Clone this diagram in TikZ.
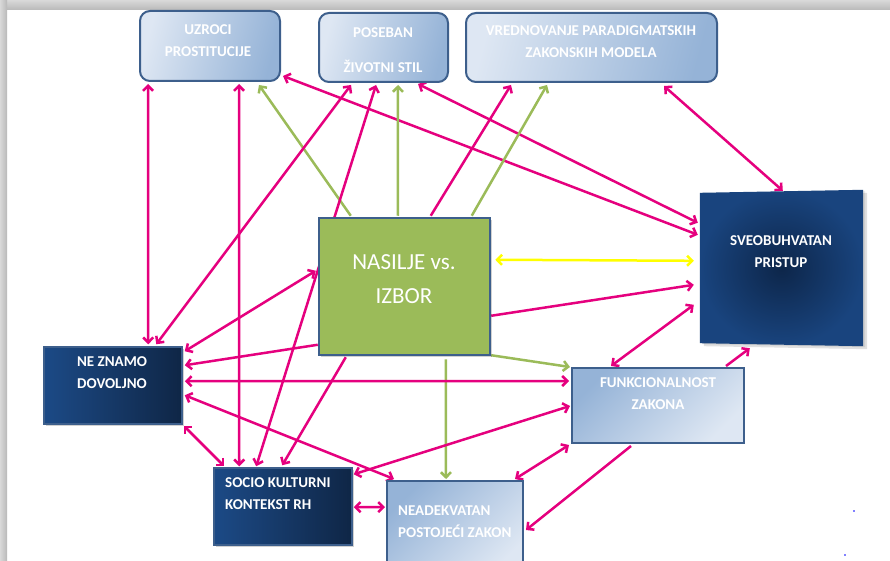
\documentclass[tikz,border=0pt]{standalone}
\usepackage{fontspec}
\setmainfont{Carlito}
\usetikzlibrary{arrows.meta,calc,shadows}
\definecolor{mag}{RGB}{229,0,126}
\definecolor{grn}{RGB}{155,187,89}
\definecolor{bord}{RGB}{61,95,140}
\definecolor{lightA}{RGB}{222,231,243}
\definecolor{lightB}{RGB}{149,179,215}
\definecolor{darkA}{RGB}{28,74,134}
\definecolor{darkB}{RGB}{15,38,70}
\definecolor{sveIn}{RGB}{13,38,74}
\definecolor{sveOut}{RGB}{25,68,126}
\definecolor{yel}{RGB}{255,255,0}
\pgfdeclarelayer{back}
\pgfdeclarelayer{lines}
\pgfsetlayers{back,lines,main}
\tikzset{
  conn/.style={line width=2.5pt},
  pk/.style={conn, draw=mag},
  gr/.style={conn, draw=grn},
  yl/.style={conn, draw=yel},
  one/.style={-{Straight Barb[length=5pt,width=10pt]}},
  two/.style={{Straight Barb[length=5pt,width=10pt]}-{Straight Barb[length=5pt,width=10pt]}},
  lbl/.style={text=white, font=\bfseries\fontsize{15}{22}\selectfont, align=center, inner sep=0pt},
  softshadow/.style={drop shadow={shadow xshift=2pt, shadow yshift=-2pt, opacity=0.18, fill=black}},
  topbox/.style={draw=bord, line width=2pt, rounded corners=10pt, inner sep=0pt,
    left color=lightA, right color=lightB, shading angle=75},
  lowbox/.style={draw=bord, line width=2pt, inner sep=0pt,
    left color=lightB, right color=lightA, shading angle=45},
  darkbox/.style={draw=bord, line width=1.5pt, inner sep=0pt,
    left color=darkA, right color=darkB, softshadow},
}
\begin{document}
\begin{tikzpicture}[x=1pt,y=-1pt]
\useasboundingbox (0,0) rectangle (890,561);
\begin{pgfonlayer}{back}
  \fill[white] (0,0) rectangle (890,561);
  \shade[top color=gray!30, bottom color=gray!55] (0,0) rectangle (890,10);
  \shade[left color=gray!30, right color=gray!55] (0,0) rectangle (7,561);
\end{pgfonlayer}

% boxes
\node[topbox, minimum width=140pt, minimum height=70pt] (uz) at (210,46) {};
\node[topbox, minimum width=129pt, minimum height=69pt] (pos) at (383.5,47.5) {};
\node[topbox, minimum width=251pt, minimum height=69pt] (vred) at (591.5,47.5) {};
\node[inner sep=0pt, minimum width=163pt, minimum height=155pt] (sve) at (781.5,267.5) {};
\fill[black, opacity=0.12] ($(sve.north west)+(4,6)$) -- ($(sve.north east)+(4,3)$) -- ($(sve.south east)+(4,4)$) -- ($(sve.south west)+(4,1)$) -- cycle;
\fill[black, opacity=0.08] ($(sve.north west)+(2,4)$) -- ($(sve.north east)+(2,1)$) -- ($(sve.south east)+(2,2)$) -- ($(sve.south west)+(2,-1)$) -- cycle;
\shade[inner color=sveIn, outer color=sveOut]
  ($(sve.north west)+(0,3)$) -- (sve.north east) -- ($(sve.south east)+(0,1)$) -- ($(sve.south west)+(0,-2)$) -- cycle;
\node[draw=bord, line width=2.5pt, fill=grn, inner sep=0pt, minimum width=171pt, minimum height=137pt,
  softshadow] (nas) at (404.5,286.5) {};
\node[darkbox, minimum width=138pt, minimum height=77pt] (nez) at (113,385.5) {};
\node[darkbox, minimum width=138pt, minimum height=77pt] (soc) at (283,506.5) {};
\node[lowbox, minimum width=136pt, minimum height=94pt] (nea) at (455,528) {};
\node[lowbox, minimum width=172pt, minimum height=75pt] (fun) at (658,405.5) {};

% texts
\node[lbl] (uz-t) at (208,40.5) {UZROCI\\PROSTITUCIJE};
\node[lbl] (pos-t) at (383,50.5) {POSEBAN\\[13pt]ŽIVOTNI STIL};
\node[lbl] (vred-t) at (591,42) {VREDNOVANJE PARADIGMATSKIH\\ZAKONSKIH MODELA};
\node[lbl] (sve-t) at (781,252) {SVEOBUHVATAN\\PRISTUP};
\node[text=white, font=\fontsize{23}{34}\selectfont, align=center, inner sep=0pt] (nas-t) at (404,279) {NASILJE vs.\\IZBOR};
\node[lbl] (nez-t) at (112,373) {NE ZNAMO\\DOVOLJNO};
\node[lbl, align=left, anchor=west] (soc-t) at (225,494) {SOCIO KULTURNI\\KONTEKST RH};
\node[lbl, align=left, anchor=west] (nea-t) at (398,521.5) {NEADEKVATAN\\POSTOJEĆI ZAKON};
\node[lbl] (fun-t) at (658,394) {FUNKCIONALNOST\\ZAKONA};

% connectors
\begin{pgfonlayer}{lines}
  \draw[pk,two] ($(uz.south west)+(9,2)$) -- ($(nez.north west)+(105,-2)$);
  \draw[pk,two] ($(uz.south west)+(100,2)$) -- ($(soc.north west)+(26,-1)$);
  \draw[gr,one] ($(nas.north west)+(33,-1)$) -- ($(uz.south west)+(120,3)$);
  \draw[pk,two] ($(uz.south east)+(2,-6)$) -- ($(sve.north west)+(-2,45)$);
  \draw[pk,two] ($(pos.south east)+(-31,1)$) -- ($(sve.north west)+(-2,33)$);
  \draw[pk,two] ($(pos.south west)+(33,2)$) -- ($(nez.north west)+(113,-2)$);
  \draw[pk,two] ($(pos.south west)+(58,2)$) -- ($(soc.north west)+(43,-1)$);
  \draw[gr,one] ($(nas.north west)+(80,-1)$) -- ($(pos.south west)+(80,2)$);
  \draw[pk,one] ($(nas.north west)+(113,-1)$) -- ($(vred.south west)+(46,2)$);
  \draw[gr,one] ($(nas.north west)+(154,-1)$) -- ($(vred.south west)+(82,2)$);
  \draw[pk,two] ($(vred.south west)+(199,3)$) -- ($(sve.north west)+(83,1)$);
  \draw[yl,two] ($(nas.north east)+(4,43)$) -- ($(sve.north west)+(-6,71)$);
  \draw[pk,one] ($(nas.north east)+(0,99)$) -- ($(sve.north west)+(-6,95)$);
  \draw[pk,two] ($(nas.north west)+(-2,54)$) -- ($(nez.north east)+(2,5)$);
  \draw[pk,one] ($(nas.north west)+(0,128)$) -- ($(nez.north east)+(2,19)$);
  \draw[pk,one] ($(nas.south west)+(28,1)$) -- ($(soc.north west)+(69,-2)$);
  \draw[gr,one] ($(nas.south west)+(128,3)$) -- ($(nea.north west)+(60,-1)$);
  \draw[gr,one] ($(nas.south east)+(0,-1)$) -- ($(fun.north west)+(-1,0)$);
  \draw[pk,two] ($(nez.north east)+(2,35)$) -- ($(fun.north west)+(-2,14)$);
  \draw[pk,two] ($(nez.north east)+(2,49)$) -- ($(nea.north west)+(8,-1)$);
  \draw[pk,two] ($(nez.south east)+(1,1)$) -- ($(soc.north west)+(11,-1)$);
  \draw[pk,two] ($(soc.north east)+(1,7)$) -- ($(fun.north west)+(-1,39)$);
  \draw[pk,two] ($(soc.north east)+(1,40)$) -- ($(nea.north west)+(-1,27)$);
  \draw[pk,two] ($(nea.north east)+(-9,-1)$) -- ($(fun.south west)+(-2,1)$);
  \draw[pk,one] ($(fun.south west)+(60,2)$) -- ($(nea.north east)+(2,50)$);
  \draw[pk,two] ($(fun.north west)+(40,-1)$) -- ($(sve.north west)+(-6,115)$);
  \draw[pk,one] ($(fun.north west)+(155,-1)$) -- ($(sve.south west)+(50,3)$);
\end{pgfonlayer}

\fill[blue] (854,511) circle (0.9);
\fill[blue] (845,555) circle (0.9);
\end{tikzpicture}
\end{document}
